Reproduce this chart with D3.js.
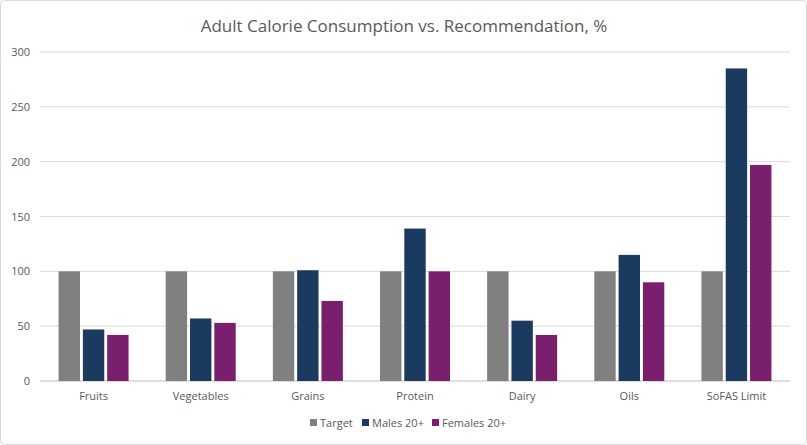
<!DOCTYPE html>
<html><head><meta charset="utf-8">
<script src="https://cdn.jsdelivr.net/npm/d3@7"></script>
<style>body{margin:0;background:#fff;font-family:Aptos,"Open Sans",Calibri,Carlito,sans-serif}</style>
</head><body><svg id="c" width="807" height="445"></svg>
<script>
const categories=["Fruits","Vegetables","Grains","Protein","Dairy","Oils","SoFAS Limit"];
const seriesNames=["Target","Males 20+","Females 20+"];
const target=[100,100,100,100,100,100,100];
const males=[47,57,101,139,55,115,285];
const females=[42,53,73,100,42,90,197];
const yTicks=[0,50,100,150,200,250,300];
const colors=["#808080","#1b3a5f","#7a1f6d"];
const series=[target,males,females];

const svg=d3.select("#c");
svg.append("rect").attr("x",0.5).attr("y",0.5).attr("width",806).attr("height",444).attr("rx",4).attr("fill","#fff").attr("stroke","#d9d9d9");
const L=40,R=790,T=52,B=381;
const x=d3.scaleBand().domain(categories).range([L,R]);
const y=d3.scaleLinear().domain([0,300]).range([B,T]);
const inner=d3.scaleBand().domain(seriesNames).range([0,70]).paddingInner(0.12);

svg.append("g").selectAll("line").data(yTicks).join("line")
 .attr("x1",L).attr("x2",R).attr("y1",d=>y(d)).attr("y2",d=>y(d))
 .attr("stroke",d=>d===0?"#bfbfbf":"#d9d9d9");
svg.append("g").selectAll("text").data(yTicks).join("text")
 .attr("x",30).attr("y",d=>y(d)+4).attr("text-anchor","end")
 .attr("font-size",11).attr("fill","#595959").text(d=>d);

series.forEach((s,i)=>{
 svg.append("g").selectAll("rect").data(s).join("rect")
  .attr("x",(d,j)=>x(categories[j])+x.bandwidth()/2-35+inner(seriesNames[i]))
  .attr("width",inner.bandwidth())
  .attr("y",d=>y(d)).attr("height",d=>B-y(d)).attr("fill",colors[i]);
});
svg.append("g").selectAll("text").data(categories).join("text")
 .attr("x",d=>x(d)+x.bandwidth()/2).attr("y",400).attr("text-anchor","middle")
 .attr("font-size",11).attr("fill","#595959").text(d=>d);

svg.append("text").attr("x",404).attr("y",32).attr("text-anchor","middle")
 .attr("font-size",17).attr("fill","#595959").text("Adult Calorie Consumption vs. Recommendation, %");

const lg=svg.append("g");
const lx=[310,362,432];
seriesNames.forEach((n,i)=>{
 lg.append("rect").attr("x",lx[i]).attr("y",419).attr("width",7).attr("height",7).attr("fill",colors[i]);
 lg.append("text").attr("x",lx[i]+10).attr("y",427).attr("font-size",11).attr("fill","#595959").text(n);
});
</script></body></html>
